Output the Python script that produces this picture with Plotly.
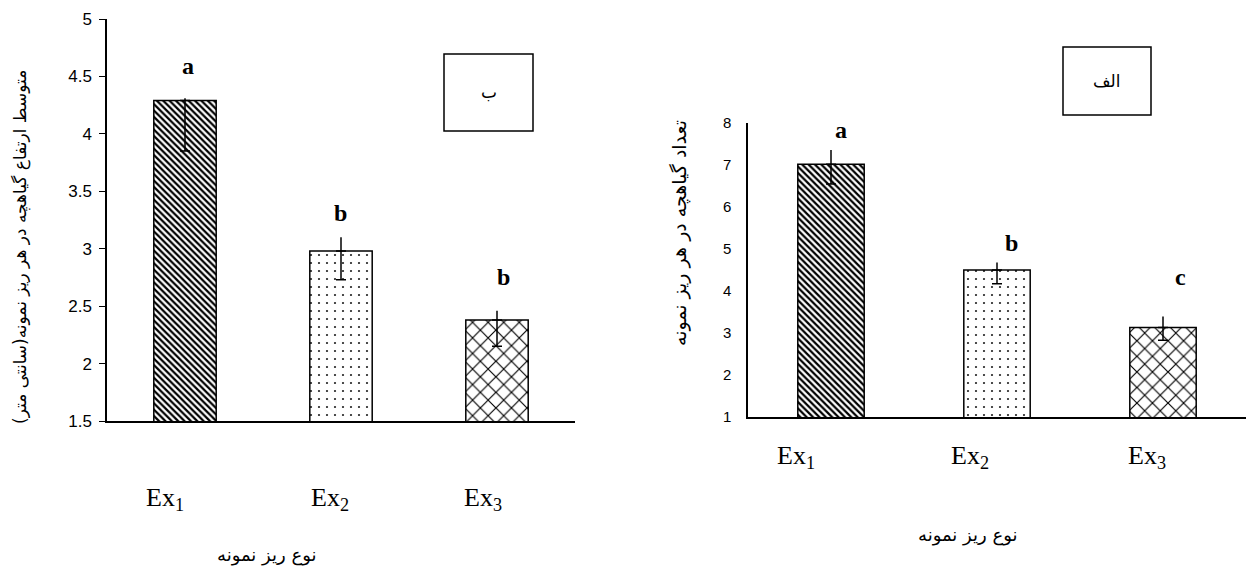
import plotly.graph_objects as go

# ---- data ----
categories = ["Ex1", "Ex2", "Ex3"]
cat_labels = ["Ex<sub>1</sub>", "Ex<sub>2</sub>", "Ex<sub>3</sub>"]

# left panel (ب): mean plantlet height per explant (cm)
height_mean = [4.29, 2.98, 2.38]
height_err_up = [0.02, 0.12, 0.08]
height_err_down = [0.44, 0.25, 0.23]
height_letters = ["a", "b", "b"]

# right panel (الف): number of plantlets per explant
count_mean = [7.02, 4.50, 3.13]
count_err_up = [0.34, 0.18, 0.26]
count_err_down = [0.47, 0.33, 0.30]
count_letters = ["a", "b", "c"]

left_yticks = [1.5, 2, 2.5, 3, 3.5, 4, 4.5, 5]
right_yticks = [1, 2, 3, 4, 5, 6, 7, 8]

# ---- styles ----
W, H = 1251, 570
patterns = [
    dict(shape="\\", size=4.5, solidity=0.5, fgcolor="black", bgcolor="white"),
    dict(shape=".", size=8, solidity=0.06, fgcolor="#222222", bgcolor="white"),
    dict(shape="x", size=11, solidity=0.2, fgcolor="black", bgcolor="white"),
]
SERIF = "Liberation Serif, Times New Roman, serif"
SANS = "Liberation Sans, Arial, sans-serif"
ARAB = "DejaVu Sans, Noto Sans, sans-serif"

fig = go.Figure()


def add_panel(xa, ya, means, up, down):
    for i, c in enumerate(categories):
        fig.add_trace(go.Bar(
            x=[c], y=[means[i]], xaxis=xa, yaxis=ya, width=0.4,
            marker=dict(color="white", line=dict(color="black", width=1.5), pattern=patterns[i]),
            error_y=dict(type="data", symmetric=False, array=[0], arrayminus=[down[i]],
                         color="black", thickness=1.5, width=5),
            showlegend=False,
        ))
    fig.add_trace(go.Scatter(
        x=categories, y=means, xaxis=xa, yaxis=ya, mode="markers",
        marker=dict(opacity=0, size=1),
        error_y=dict(type="data", symmetric=False, array=up, arrayminus=[0] * 3,
                     color="black", thickness=1.5, width=0),
        showlegend=False, hoverinfo="skip",
    ))


add_panel("x", "y", height_mean, height_err_up, height_err_down)
add_panel("x2", "y2", count_mean, count_err_up, count_err_down)

annotations = []
# significance letters
left_letter_shift = [(3, 32), (-1, 24), (6, 34)]
right_letter_shift = [(10, 20), (14, 19), (17, 40)]
for i, c in enumerate(categories):
    dx, dy = left_letter_shift[i]
    annotations.append(dict(x=c, y=height_mean[i] + height_err_up[i], xref="x", yref="y",
                            text="<b>%s</b>" % height_letters[i], showarrow=False,
                            yanchor="middle", xshift=dx, yshift=dy,
                            font=dict(family=SERIF, size=24, color="black")))
    dx, dy = right_letter_shift[i]
    annotations.append(dict(x=c, y=count_mean[i] + count_err_up[i], xref="x2", yref="y2",
                            text="<b>%s</b>" % count_letters[i], showarrow=False,
                            yanchor="middle", xshift=dx, yshift=dy,
                            font=dict(family=SERIF, size=24, color="black")))

# category labels
left_cat_shift = [-20, -11, -14]
right_cat_shift = [-35, -27, -16]
for i, c in enumerate(categories):
    annotations.append(dict(x=c, y=left_yticks[0], xref="x", yref="y", text=cat_labels[i],
                            showarrow=False, yanchor="middle", xshift=left_cat_shift[i], yshift=-78,
                            font=dict(family=SERIF, size=26, color="black")))
    annotations.append(dict(x=c, y=right_yticks[0], xref="x2", yref="y2", text=cat_labels[i],
                            showarrow=False, yanchor="middle", xshift=right_cat_shift[i], yshift=-40,
                            font=dict(family=SERIF, size=26, color="black")))


def px(x, y):
    return x / W, 1 - y / H


# axis titles
for text, (x, y), ang, sz in [
    ("متوسط ارتفاع گیاهچه در هر ریز نمونه(سانتی متر)", px(20, 247), -90, 17),
    ("تعداد گیاهچه در هر ریز نمونه", px(680, 233), -90, 19),
    ("نوع ریز نمونه", px(267, 555), 0, 18),
    ("نوع ریز نمونه", px(968, 535), 0, 18),
]:
    annotations.append(dict(x=x, y=y, xref="paper", yref="paper", text=text, textangle=ang,
                            showarrow=False, xanchor="center", yanchor="middle",
                            font=dict(family=ARAB, size=sz, color="black")))

# panel labels in boxes
shapes = []
for text, (x0, y0, x1, y1) in [("ب", (444, 54, 533, 131)), ("الف", (1063, 47, 1151, 115))]:
    a0, b0 = px(x0, y1)
    a1, b1 = px(x1, y0)
    shapes.append(dict(type="rect", xref="paper", yref="paper", x0=a0, y0=b0, x1=a1, y1=b1,
                       line=dict(color="black", width=1.5), fillcolor="white", layer="above"))
    annotations.append(dict(x=(a0 + a1) / 2, y=(b0 + b1) / 2, xref="paper", yref="paper",
                            xanchor="center", yanchor="middle",
                            text=text, showarrow=False, font=dict(family=ARAB, size=17, color="black")))

lx0, ly0 = px(107, 421)
lx1, ly1 = px(575, 19)
rx0, ry0 = px(748, 417)
rx1, ry1 = px(1246, 123)

common_x = dict(type="category", categoryorder="array", categoryarray=categories,
                showticklabels=False, ticks="", showgrid=False, zeroline=False,
                showline=True, linecolor="black", fixedrange=True, automargin=False)

fig.update_layout(
    template="none",
    width=W, height=H, margin=dict(l=0, r=0, t=0, b=0, autoexpand=False),
    paper_bgcolor="white", plot_bgcolor="white",
    barmode="overlay", showlegend=False,
    xaxis=dict(domain=[lx0, lx1], anchor="y", linewidth=2, **common_x),
    yaxis=dict(domain=[ly0, ly1], anchor="x", range=[1.5, 5], tickvals=left_yticks,
               ticktext=[("%g" % v) for v in left_yticks], automargin=False,
               showgrid=False, zeroline=False, showline=True, linecolor="black", linewidth=1.5,
               ticks="outside", ticklen=6, tickwidth=1, tickcolor="black", ticklabelstandoff=4,
               tickfont=dict(family=SANS, size=17, color="black")),
    xaxis2=dict(domain=[rx0, rx1], anchor="y2", linewidth=1.5, **common_x),
    yaxis2=dict(domain=[ry0, ry1], anchor="x2", range=[1, 8], tickvals=right_yticks,
                automargin=False,
                showgrid=False, zeroline=False, showline=True, linecolor="black", linewidth=1.5,
                ticks="", ticklabelstandoff=12,
                tickfont=dict(family=SANS, size=15, color="black")),
    annotations=annotations, shapes=shapes,
)

fig.write_html("out.html", config={"displayModeBar": False},
               post_script="document.body.style.margin='0px';")
